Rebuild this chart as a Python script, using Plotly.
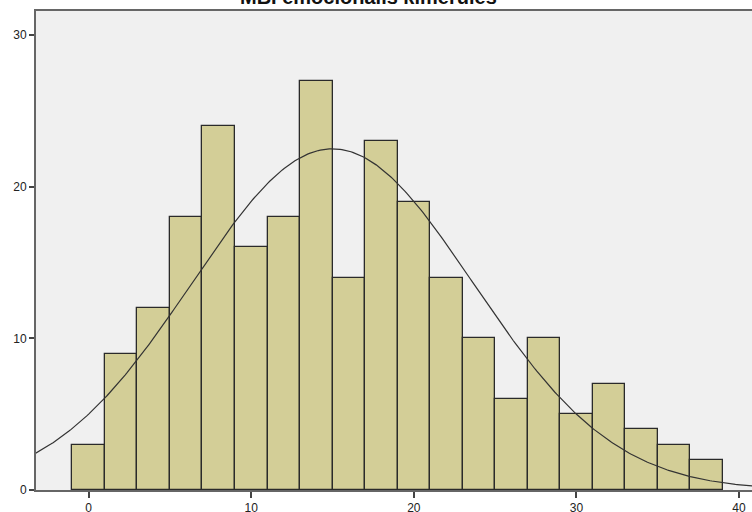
import numpy as np
import plotly.graph_objects as go

# Data
bin_centers = [0, 2, 4, 6, 8, 10, 12, 14, 16, 18, 20, 22, 24, 26, 28, 30, 32, 34, 36, 38]
counts = [3, 9, 12, 18, 24, 16, 18, 27, 14, 23, 19, 14, 10, 6, 10, 5, 7, 4, 3, 2]
bin_width = 2
x_ticks = [0, 10, 20, 30, 40]
y_ticks = [0, 10, 20, 30]
title_text = "MBI emocionális kimerülés"

# Fitted normal curve parameters
curve_mean = 15.0
curve_sd = 8.65
n_total = sum(counts)

xs = np.linspace(-3.3, 41, 400)
ys = n_total * bin_width / (curve_sd * np.sqrt(2 * np.pi)) * np.exp(-0.5 * ((xs - curve_mean) / curve_sd) ** 2)

fig = go.Figure()
fig.add_trace(go.Bar(
    x=bin_centers, y=counts, width=bin_width,
    marker=dict(color="#D3CE97", line=dict(color="#2a2a2a", width=1.3)),
    hoverinfo="x+y",
))
fig.add_trace(go.Scatter(
    x=xs, y=ys, mode="lines",
    line=dict(color="#333333", width=1.2),
    hoverinfo="skip",
))

fig.update_layout(
    width=752, height=512,
    margin=dict(l=36, r=0, t=11, b=22, pad=0, autoexpand=False),
    paper_bgcolor="white",
    plot_bgcolor="#F0F0F0",
    showlegend=False,
    bargap=0,
    font=dict(family="Liberation Sans, Arial, sans-serif", size=12, color="#222222"),
    annotations=[dict(
        text="<b>" + title_text + "</b>",
        xref="paper", yref="paper", x=(368 - 36) / 716, y=1,
        xanchor="center", yanchor="bottom", showarrow=False,
        font=dict(family="Liberation Sans, Arial, sans-serif", size=20, color="#111111"),
        yshift=1,
    )],
)
fig.update_xaxes(
    range=[-3.24, 40.8], tickvals=x_ticks, ticks="outside", ticklen=6, tickwidth=1.5,
    tickcolor="#444444", showline=True, linecolor="#666666", linewidth=2, mirror=True,
    showgrid=False, zeroline=False, automargin=False,
)
fig.update_yaxes(
    range=[0, 31.6], tickvals=y_ticks, ticks="outside", ticklen=5, tickwidth=1.5,
    tickcolor="#444444", showline=True, linecolor="#666666", linewidth=2, mirror=False,
    showgrid=False, zeroline=False, automargin=False,
)

fig.write_html("out.html")
